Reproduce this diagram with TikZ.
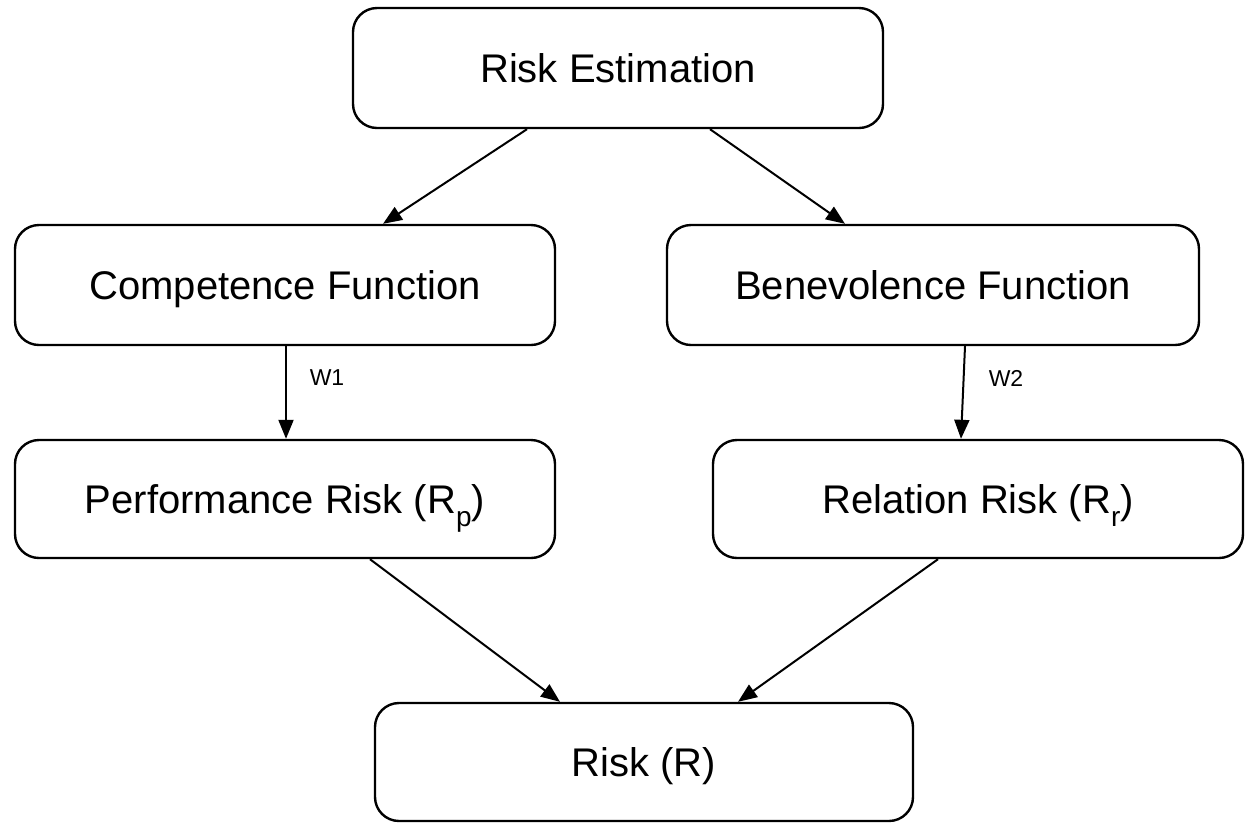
\documentclass[tikz,border=0pt]{standalone}
\usepackage{fontspec}
\setmainfont{Liberation Sans}
\usetikzlibrary{arrows.meta}
\newcommand{\subx}[1]{\raisebox{-0.32em}{\fontsize{28}{28}\selectfont #1}}
\begin{document}
\begin{tikzpicture}[x=1pt,y=-1pt,
  box/.style={draw=black,line width=2.4pt,rounded corners=24pt,fill=white,
    inner sep=0pt,text height=28.6pt,text depth=0pt,font=\fontsize{40}{44}\selectfont},
  conn/.style={line width=2pt,-{Triangle[length=19pt,width=15pt]}},
  wlabel/.style={font=\fontsize{23}{26}\selectfont,inner sep=0pt}]
\path[use as bounding box,fill=white] (0,0) rectangle (1246,823);
\node[box,minimum width=530pt,minimum height=120pt] (RE) at (618,68) {Risk Estimation};
\node[box,minimum width=540pt,minimum height=120pt] (CF) at (285,285) {Competence Function};
\node[box,minimum width=532pt,minimum height=120pt] (BF) at (933,285) {Benevolence Function};
\node[box,minimum width=540pt,minimum height=118pt] (PR) at (285,499) {Performance Risk (R\subx{p})};
\node[box,minimum width=530pt,minimum height=118pt] (RR) at (978,499) {Relation Risk (R\subx{r})};
\node[box,minimum width=538pt,minimum height=118pt] (R) at (644,762) {Risk (R)};
\draw[conn] ([xshift=-91pt]RE.south) -- ([xshift=98pt]CF.north);
\draw[conn] ([xshift=92pt]RE.south) -- ([xshift=-88pt]BF.north);
\draw[conn] ([xshift=1pt]CF.south) -- ([xshift=1pt]PR.north);
\draw[conn] ([xshift=32pt]BF.south) -- ([xshift=-17pt]RR.north);
\draw[conn] ([xshift=85pt]PR.south) -- ([xshift=-84pt]R.north);
\draw[conn] ([xshift=-40pt]RR.south) -- ([xshift=94pt]R.north);
\node[wlabel] (W1) at (327,378) {W1};
\node[wlabel] (W2) at (1006,378) {W2};
\end{tikzpicture}
\end{document}
